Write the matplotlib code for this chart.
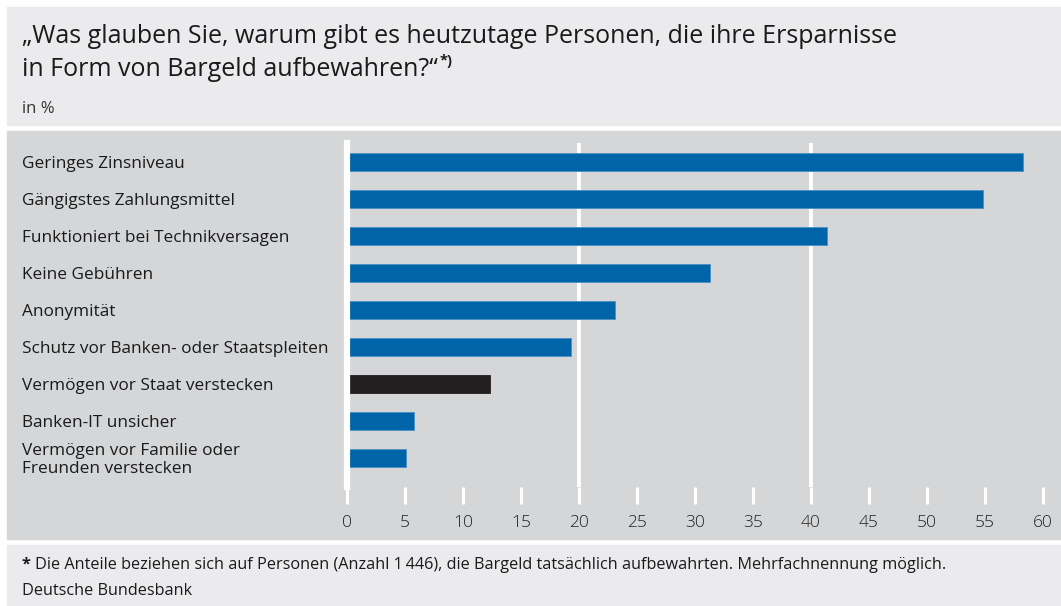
import matplotlib
matplotlib.use("Agg")
import matplotlib.pyplot as plt
from matplotlib.patches import Rectangle
from matplotlib.transforms import blended_transform_factory

categories = [
    "Geringes Zinsniveau",
    "Gängigstes Zahlungsmittel",
    "Funktioniert bei Technikversagen",
    "Keine Gebühren",
    "Anonymität",
    "Schutz vor Banken- oder Staatspleiten",
    "Vermögen vor Staat verstecken",
    "Banken-IT unsicher",
    "Vermögen vor Familie oder\nFreunden verstecken",
]
values = [58.3, 54.8, 41.4, 31.3, 23.1, 19.3, 12.3, 5.8, 5.1]
highlight = [False, False, False, False, False, False, True, False, False]
xticks = list(range(0, 61, 5))

W, H = 1061, 606
BLUE = "#0064a8"
DARK = "#231f20"
PANEL = "#d5d6d8"
LIGHT = "#ebebed"
TXT = "#1a1a1a"

plt.rcParams["font.family"] = ["Open Sans", "DejaVu Sans"]

fig = plt.figure(figsize=(W / 100, H / 100), dpi=100)
fig.patch.set_facecolor("white")


def band(x0, y0, x1, y1, color):
    # pixel box (top-left origin) -> figure rectangle
    fig.patches.append(Rectangle((x0 / W, 1 - y1 / H), (x1 - x0) / W, (y1 - y0) / H,
                                 transform=fig.transFigure, color=color, zorder=-10))


band(7, 7, W, 125, LIGHT)
band(7, 131, W, 539, PANEL)
band(7, 545, W, H, LIGHT)

ax = fig.add_axes([347 / W, 1 - 487 / H, 696 / W, 344 / H])
ax.set_facecolor("none")
for s in ax.spines.values():
    s.set_visible(False)

ypos = list(range(len(categories)))
colors = [DARK if h else BLUE for h in highlight]
ax.barh(ypos, values, height=0.49, color=colors, edgecolor=[("#231f20" if h else "#4a8fc4") for h in highlight],
        linewidth=0.6, zorder=3)
for g in (20, 40):
    ax.axvline(g, color="white", lw=2.8, zorder=1)
ax.axvline(0, color="white", lw=4.5, zorder=4, clip_on=False)

ax.set_xlim(0, 60)
ax.set_ylim(8 + 29 / 37, -19 / 37)
ax.set_yticks([])
ax.set_xticks(xticks)
ax.set_xticklabels([str(t) for t in xticks], fontsize=12.5, color="#222222", fontweight="light")
ax.tick_params(axis="x", length=12, width=2.2, color="white", pad=8)

tr = blended_transform_factory(fig.transFigure, ax.transData)
for y, lab in zip(ypos, categories):
    ax.text(22 / W, y + 0.05, lab, transform=tr, ha="left", va="center", fontsize=12.4,
            color=TXT, linespacing=1.18)

fig.text(22 / W, 1 - 43 / H, "\u201eWas glauben Sie, warum gibt es heutzutage Personen, die ihre Ersparnisse",
         fontsize=18, color=TXT, va="baseline")
t2 = fig.text(22 / W, 1 - 76 / H, "in Form von Bargeld aufbewahren?\u201c",
              fontsize=18, color=TXT, va="baseline")
fig.canvas.draw()
bb = t2.get_window_extent()
fig.text(bb.x1 / W + 2 / W, 1 - 65 / H, "*)", fontsize=10.5, fontweight="bold", color=TXT, va="baseline")

fig.text(22 / W, 1 - 113 / H, "in %", fontsize=12, color="#333333", va="baseline")

f1 = fig.text(22 / W, 1 - 569 / H, "*", fontsize=11.7, fontweight="bold", color=TXT, va="baseline")
fig.canvas.draw()
bs = f1.get_window_extent()
fig.text(bs.x1 / W + 4 / W, 1 - 569 / H,
         "Die Anteile beziehen sich auf Personen (Anzahl 1\u2009446), die Bargeld tatsächlich aufbewahrten. Mehrfachnennung möglich.",
         fontsize=11.7, color=TXT, va="baseline")
fig.text(22 / W, 1 - 595 / H, "Deutsche Bundesbank", fontsize=11.7, color=TXT, va="baseline")

fig.savefig("out.png", dpi=100)
